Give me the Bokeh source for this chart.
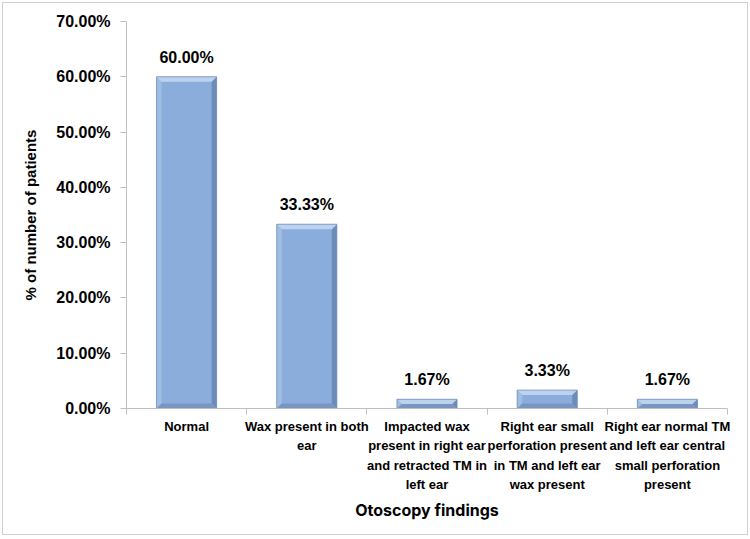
from bokeh.plotting import figure
from bokeh.models import FixedTicker, PrintfTickFormatter, ColumnDataSource, Range1d
from bokeh.core.properties import value
from bokeh.embed import file_html
from bokeh.resources import INLINE

categories = [
    "Normal",
    "Wax present in both\near",
    "Impacted wax\npresent in right ear\nand retracted TM in\nleft ear",
    "Right ear small\nperforation present\nin TM and left ear\nwax present",
    "Right ear normal TM\nand left ear central\nsmall perforation\npresent",
]
values = [60.00, 33.33, 1.67, 3.33, 1.67]
labels = ["60.00%", "33.33%", "1.67%", "3.33%", "1.67%"]
y_ticks = [0, 10, 20, 30, 40, 50, 60, 70]

n = len(categories)
xs = [i + 1 for i in range(n)]

p = figure(width=744, height=531, output_backend="svg", toolbar_location=None,
           x_range=Range1d(0.5, n + 0.5), y_range=Range1d(0, 70),
           min_border_left=123, min_border_right=20, min_border_top=18, min_border_bottom=126)
p.styles = {"margin": "3px", "outline": "1px solid #D0D0D0"}
p.outline_line_color = None
p.grid.visible = False
p.background_fill_color = "white"
p.border_fill_color = "white"

# bars with bevel
w = 0.5
bx = 0.042
by_full = 0.9
base = "#8AADDB"
tops, lefts, rights, bottoms = [], [], [], []
for x, v in zip(xs, values):
    x0, x1 = x - w / 2, x + w / 2
    by = min(by_full, v / 2)
    tops.append(([x0, x1, x1 - bx, x0 + bx], [v, v, v - by, v - by]))
    bottoms.append(([x0, x1, x1 - bx, x0 + bx], [0, 0, by, by]))
    lefts.append(([x0, x0, x0 + bx, x0 + bx], [0, v, v - by, by]))
    rights.append(([x1, x1, x1 - bx, x1 - bx], [0, v, v - by, by]))

p.vbar(x=xs, top=values, bottom=0, width=w, fill_color=base, line_color=None)
for polys, col in [(lefts, "#A0BDE2"), (rights, "#6D8CB8"), (bottoms, "#7896C2"), (tops, "#BCD2EE")]:
    p.patches(xs=[a for a, b in polys], ys=[b for a, b in polys], fill_color=col, line_color=None)
p.vbar(x=xs, top=values, bottom=0, width=w, fill_color=None, line_color="#7391BD", line_width=0.8)

# data labels
src = ColumnDataSource(dict(x=xs, y=values, t=labels))
p.text(x="x", y="y", text="t", source=src, text_align="center", text_baseline="bottom",
       y_offset=-11, text_font_size="16px", text_font_style="bold", text_color="black",
       text_font=value("Liberation Sans"))

# axes
ax = p.xaxis[0]
ax.ticker = FixedTicker(ticks=xs, minor_ticks=[i + 0.5 for i in range(n + 1)])
ax.major_label_overrides = {x: c for x, c in zip(xs, categories)}
ax.major_tick_line_color = None
ax.minor_tick_line_color = "#BFBFBF"
ax.minor_tick_in = 0
ax.minor_tick_out = 6
ax.axis_line_color = "#BFBFBF"
ax.major_label_text_font = "Liberation Sans"
ax.major_label_text_font_style = "bold"
ax.major_label_text_font_size = "13px"
ax.major_label_text_line_height = 1.3
ax.major_label_text_color = "black"
ax.major_label_standoff = 4
ax.axis_label = "Otoscopy findings"
ax.axis_label_text_font = "Inter"
ax.axis_label_text_font_style = "bold"
ax.axis_label_text_font_size = "16px"
ax.axis_label_text_color = "black"
ax.axis_label_standoff = 5

ay = p.yaxis[0]
ay.ticker = FixedTicker(ticks=y_ticks, minor_ticks=[])
ay.formatter = PrintfTickFormatter(format="%.2f%%")
ay.axis_line_color = "#BFBFBF"
ay.major_tick_line_color = "#BFBFBF"
ay.major_tick_in = 0
ay.major_tick_out = 6
ay.major_label_text_font = "Liberation Sans"
ay.major_label_text_font_style = "bold"
ay.major_label_text_font_size = "16px"
ay.major_label_text_color = "black"
ay.major_label_standoff = 10
ay.axis_label = "% of number of patients"
ay.axis_label_text_font = "Liberation Sans"
ay.axis_label_text_font_style = "bold"
ay.axis_label_text_font_size = "15px"
ay.axis_label_text_color = "black"
ay.axis_label_standoff = 14

open("out.html", "w").write(file_html(p, INLINE))
